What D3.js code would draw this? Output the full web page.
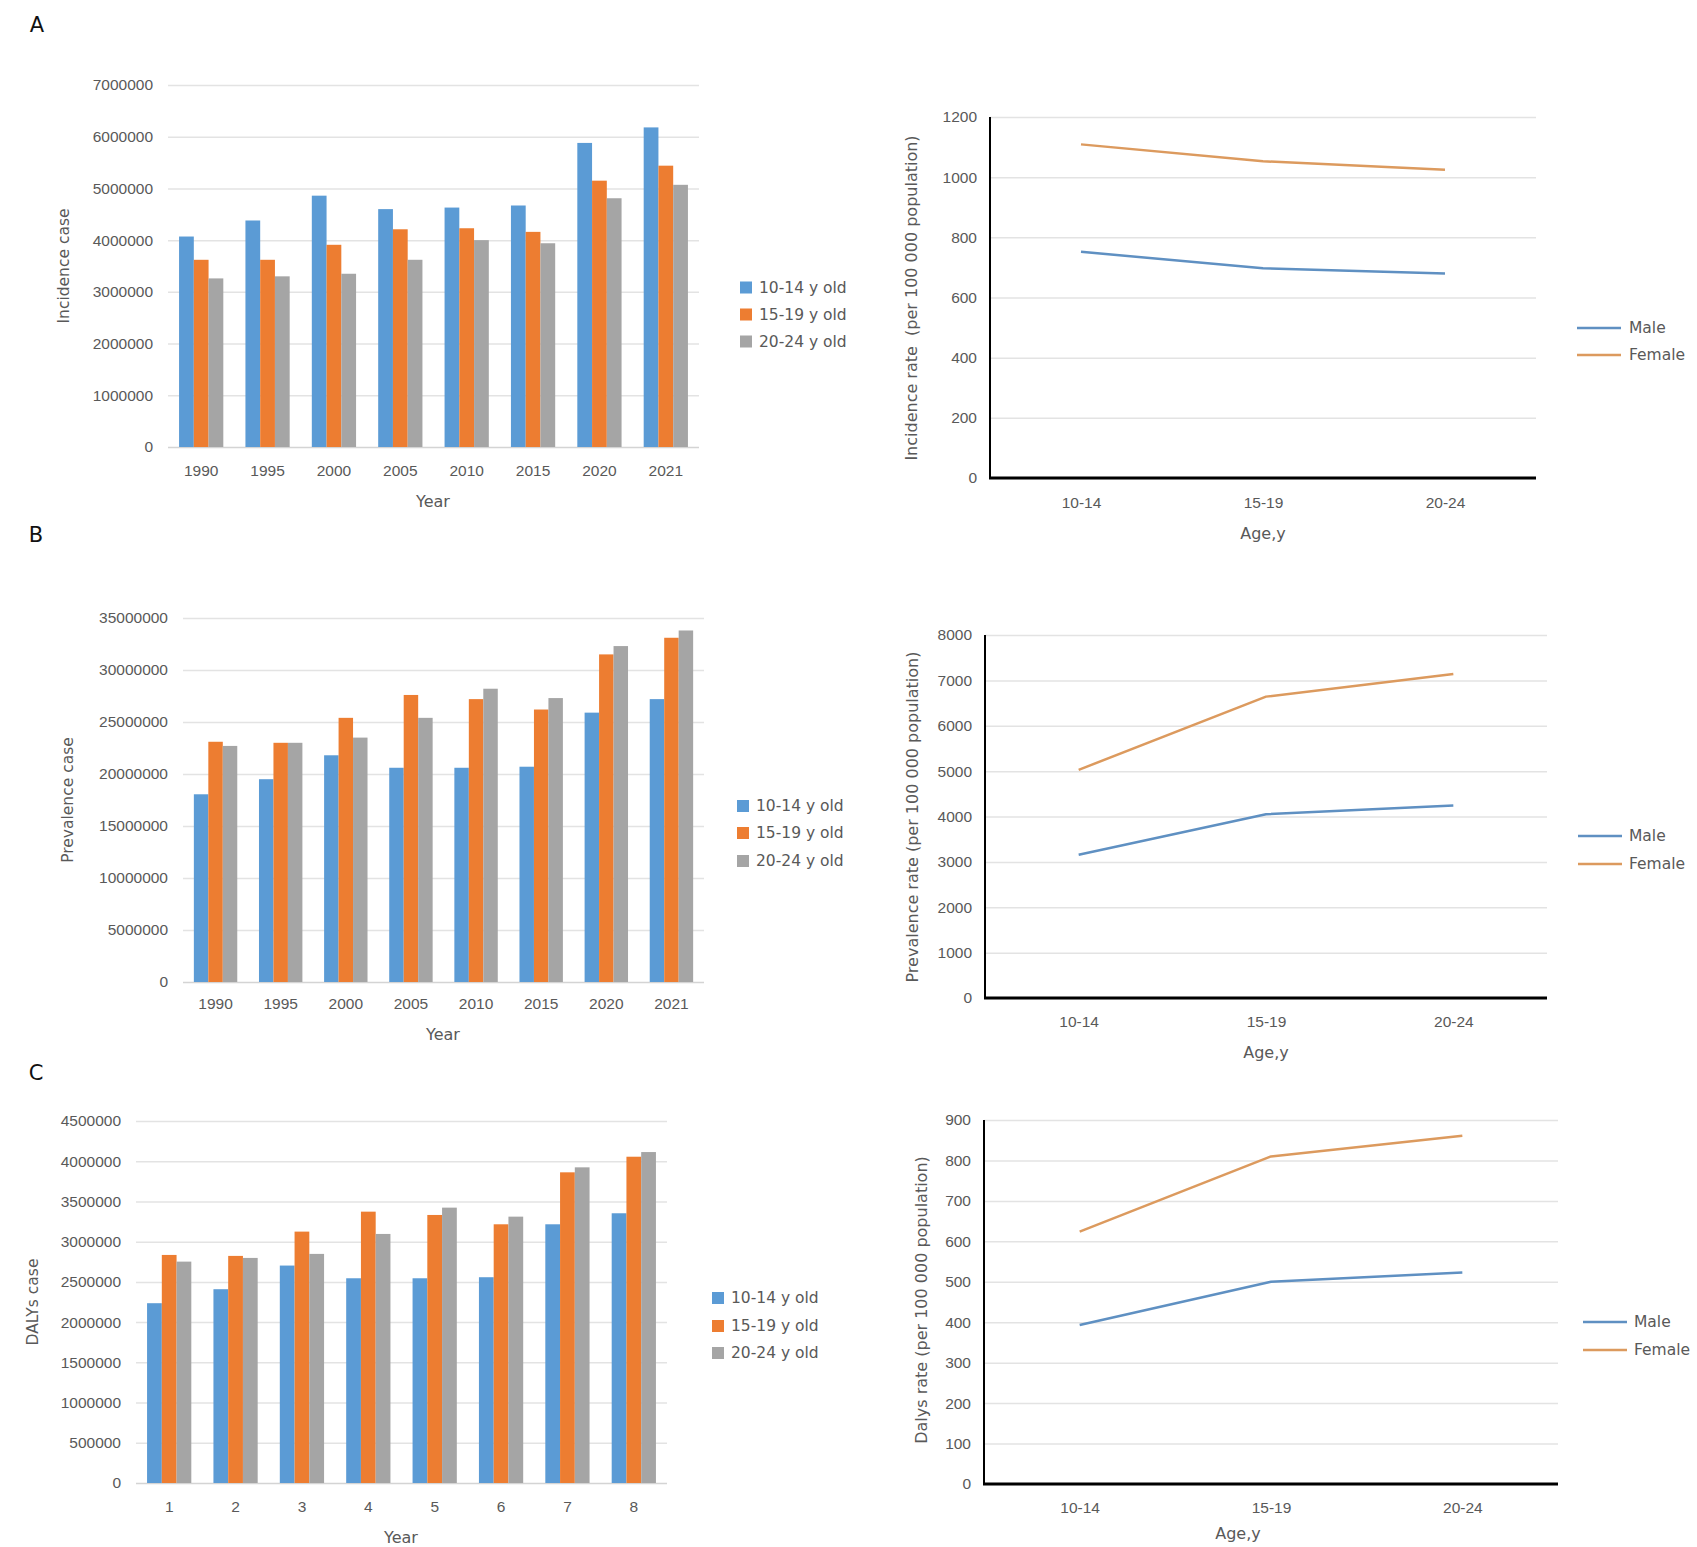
<!DOCTYPE html>
<meta charset="utf-8">
<style>
  body { margin: 0; background: #fff; }
  svg { display: block; font-family: "DejaVu Sans", "Liberation Sans", sans-serif; }
</style>
<script src="https://d3js.org/d3.v7.min.js"></script>
<div id="chart"></div>
<script>

  // ---- data ----
  const years = ["1990", "1995", "2000", "2005", "2010", "2015", "2020", "2021"];
  const dalysIndex = ["1", "2", "3", "4", "5", "6", "7", "8"];
  const ageGroups = ["10-14 y old", "15-19 y old", "20-24 y old"];
  const ageBands = ["10-14", "15-19", "20-24"];
  const sexes = ["Male", "Female"];

  const incidence10to14 = [4070000, 4380000, 4860000, 4600000, 4630000, 4670000, 5880000, 6180000];
  const incidence15to19 = [3620000, 3620000, 3910000, 4210000, 4230000, 4160000, 5150000, 5440000];
  const incidence20to24 = [3260000, 3300000, 3350000, 3620000, 4000000, 3940000, 4810000, 5070000];

  const prevalence10to14 = [18050000, 19500000, 21800000, 20600000, 20600000, 20700000, 25900000, 27200000];
  const prevalence15to19 = [23100000, 23000000, 25400000, 27600000, 27200000, 26200000, 31500000, 33100000];
  const prevalence20to24 = [22700000, 23000000, 23500000, 25400000, 28200000, 27300000, 32300000, 33800000];

  const dalys10to14 = [2235000, 2409000, 2703000, 2545000, 2545000, 2558000, 3216000, 3353000];
  const dalys15to19 = [2835000, 2823000, 3125000, 3373000, 3332000, 3216000, 3862000, 4056000];
  const dalys20to24 = [2752000, 2798000, 2848000, 3096000, 3423000, 3311000, 3924000, 4114000];

  const incidenceRateMale = [752, 697, 680];
  const incidenceRateFemale = [1109, 1053, 1025];
  const prevalenceRateMale = [3156, 4051, 4242];
  const prevalenceRateFemale = [5028, 6642, 7141];
  const dalysRateMale = [393, 500, 523];
  const dalysRateFemale = [624, 810, 861];

  const barColors = ["#5b9bd5", "#ed7d31", "#a5a5a5"];
  const lineColors = ["#5f90c2", "#dc9a5e"];
  const textGray = "#595959";
  const gridGray = "#e3e3e3";

  const svg = d3.select("#chart").append("svg")
      .attr("width", 1697)
      .attr("height", 1547);

  // panel letters
  [["A", 37, 25], ["B", 36, 535], ["C", 36, 1073]].forEach(([t, x, y]) => {
    svg.append("text")
        .attr("x", x).attr("y", y)
        .attr("dy", "0.35em")
        .attr("text-anchor", "middle")
        .attr("font-size", 21)
        .attr("fill", "#111")
        .text(t);
  });

  function barChart(p) {
    const y = d3.scaleLinear().domain([0, p.max]).range([p.bottom, p.top]);
    const x = d3.scaleBand().domain(p.cats).range([p.left, p.right])
        .paddingInner(1 / 3).paddingOuter(1 / 6);
    const xs = d3.scaleBand().domain(ageGroups).range([0, x.bandwidth()]);

    const g = svg.append("g");

    g.append("g")
        .attr("transform", `translate(${p.left},0)`)
        .call(d3.axisLeft(y)
          .tickValues(d3.range(0, p.max + p.step / 2, p.step))
          .tickSize(-(p.right - p.left))
          .tickPadding(15)
          .tickFormat(d3.format("d")))
        .call(a => a.select(".domain").remove())
        .call(a => a.selectAll(".tick line")
          .attr("stroke", d => d === 0 ? "#d4d4d4" : gridGray)
          .attr("stroke-width", 1.5))
        .call(a => a.selectAll(".tick text")
          .attr("fill", textGray)
          .attr("font-size", 15.5)
          .attr("font-family", null));

    p.series.forEach((vals, j) => {
      g.append("g")
          .attr("fill", barColors[j])
        .selectAll("rect")
        .data(vals)
        .join("rect")
          .attr("x", (d, i) => x(p.cats[i]) + xs(ageGroups[j]))
          .attr("width", xs.bandwidth())
          .attr("y", d => y(d))
          .attr("height", d => y(0) - y(d));
    });

    g.append("g")
        .attr("transform", `translate(0,${p.labelY})`)
        .call(d3.axisBottom(x).tickSize(0).tickPadding(0))
        .call(a => a.select(".domain").remove())
        .call(a => a.selectAll(".tick text")
          .attr("y", 0).attr("dy", "0.35em")
          .attr("fill", textGray)
          .attr("font-size", 15.5)
          .attr("font-family", null));

    g.append("text")
        .attr("x", p.xTitle[0]).attr("y", p.xTitle[1])
        .attr("dy", "0.35em")
        .attr("text-anchor", "middle")
        .attr("font-size", 16)
        .attr("fill", textGray)
        .text("Year");

    g.append("text")
        .attr("transform", `translate(${p.yTitle[0]},${p.yTitle[1]}) rotate(-90)`)
        .attr("dy", "0.35em")
        .attr("text-anchor", "middle")
        .attr("font-size", 15.5)
        .attr("fill", textGray)
        .text(p.yLabel);

    const leg = g.append("g").selectAll("g")
      .data(ageGroups)
      .join("g")
        .attr("transform", (d, i) => `translate(${p.legendX},${p.legendY[i]})`);
    leg.append("rect")
        .attr("x", 0).attr("y", -6)
        .attr("width", 12).attr("height", 12)
        .attr("fill", (d, i) => barColors[i]);
    leg.append("text")
        .attr("x", 19)
        .attr("dy", "0.35em")
        .attr("font-size", 15.5)
        .attr("fill", textGray)
        .text(d => d);
  }

  function lineChart(p) {
    const y = d3.scaleLinear().domain([0, p.max]).range([p.bottom, p.top]);
    const x = d3.scalePoint().domain(ageBands).range([p.left, p.right]).padding(0.5);

    const g = svg.append("g");

    g.append("g")
        .attr("transform", `translate(${p.left},0)`)
        .call(d3.axisLeft(y)
          .tickValues(d3.range(0, p.max + p.step / 2, p.step))
          .tickSize(-(p.right - p.left))
          .tickPadding(13)
          .tickFormat(d3.format("d")))
        .call(a => a.select(".domain").remove())
        .call(a => a.selectAll(".tick line")
          .attr("stroke", gridGray)
          .attr("stroke-width", 1.5))
        .call(a => a.selectAll(".tick text")
          .attr("fill", textGray)
          .attr("font-size", 15.5)
          .attr("font-family", null));

    // black axis lines
    g.append("line")
        .attr("x1", p.left).attr("x2", p.left)
        .attr("y1", p.top).attr("y2", p.bottom)
        .attr("stroke", "#000").attr("stroke-width", 2);
    g.append("line")
        .attr("x1", p.left - 1).attr("x2", p.right)
        .attr("y1", p.bottom).attr("y2", p.bottom)
        .attr("stroke", "#000").attr("stroke-width", 3);

    const line = d3.line()
        .x((d, i) => x(ageBands[i]))
        .y(d => y(d));

    p.series.forEach((vals, j) => {
      g.append("path")
          .datum(vals)
          .attr("fill", "none")
          .attr("stroke", lineColors[j])
          .attr("stroke-width", 2.5)
          .attr("stroke-linejoin", "round")
          .attr("d", line);
    });

    g.append("g")
        .attr("transform", `translate(0,${p.labelY})`)
        .call(d3.axisBottom(x).tickSize(0).tickPadding(0))
        .call(a => a.select(".domain").remove())
        .call(a => a.selectAll(".tick text")
          .attr("y", 0).attr("dy", "0.35em")
          .attr("fill", textGray)
          .attr("font-size", 15.5)
          .attr("font-family", null));

    g.append("text")
        .attr("x", p.xTitle[0]).attr("y", p.xTitle[1])
        .attr("dy", "0.35em")
        .attr("text-anchor", "middle")
        .attr("font-size", 16)
        .attr("fill", textGray)
        .text("Age,y");

    g.append("text")
        .attr("transform", `translate(${p.yTitle[0]},${p.yTitle[1]}) rotate(-90)`)
        .attr("dy", "0.35em")
        .attr("text-anchor", "middle")
        .attr("font-size", 16)
        .attr("fill", textGray)
        .style("white-space", "pre")
        .text(p.yLabel);

    const leg = g.append("g").selectAll("g")
      .data(sexes)
      .join("g")
        .attr("transform", (d, i) => `translate(${p.legendX},${p.legendY[i]})`);
    leg.append("line")
        .attr("x1", 0).attr("x2", 44)
        .attr("stroke", (d, i) => lineColors[i])
        .attr("stroke-width", 2.5);
    leg.append("text")
        .attr("x", p.legendTextX - p.legendX)
        .attr("dy", "0.35em")
        .attr("font-size", 15.5)
        .attr("fill", textGray)
        .text(d => d);
  }

  // ---- A ----
  barChart({
    cats: years, series: [incidence10to14, incidence15to19, incidence20to24],
    max: 7000000, step: 1000000,
    left: 168, right: 699, top: 85, bottom: 447,
    labelY: 471, xTitle: [433, 501], yTitle: [64, 266], yLabel: "Incidence case",
    legendX: 740, legendY: [287.5, 314.5, 341.5]
  });
  lineChart({
    series: [incidenceRateMale, incidenceRateFemale],
    max: 1200, step: 200,
    left: 990, right: 1536, top: 117, bottom: 478,
    labelY: 503, xTitle: [1263, 533], yTitle: [911, 298],
    yLabel: "Incidence rate  (per 100 000 population)",
    legendX: 1577, legendTextX: 1629, legendY: [328, 355]
  });

  // ---- B ----
  barChart({
    cats: years, series: [prevalence10to14, prevalence15to19, prevalence20to24],
    max: 35000000, step: 5000000,
    left: 183, right: 704, top: 618, bottom: 982,
    labelY: 1004, xTitle: [443, 1034], yTitle: [68, 800], yLabel: "Prevalence case",
    legendX: 737, legendY: [806, 833, 861]
  });
  lineChart({
    series: [prevalenceRateMale, prevalenceRateFemale],
    max: 8000, step: 1000,
    left: 985, right: 1547, top: 635, bottom: 998,
    labelY: 1022, xTitle: [1266, 1052], yTitle: [912, 817],
    yLabel: "Prevalence rate (per 100 000 population)",
    legendX: 1578, legendTextX: 1629, legendY: [836, 864]
  });

  // ---- C ----
  barChart({
    cats: dalysIndex, series: [dalys10to14, dalys15to19, dalys20to24],
    max: 4500000, step: 500000,
    left: 136, right: 667, top: 1121, bottom: 1483,
    labelY: 1507, xTitle: [401, 1537], yTitle: [33, 1302], yLabel: "DALYs case",
    legendX: 712, legendY: [1298, 1326, 1353]
  });
  lineChart({
    series: [dalysRateMale, dalysRateFemale],
    max: 900, step: 100,
    left: 984, right: 1558, top: 1120, bottom: 1484,
    labelY: 1508, xTitle: [1238, 1533], yTitle: [921, 1300],
    yLabel: "Dalys rate (per 100 000 population)",
    legendX: 1583, legendTextX: 1634, legendY: [1322, 1350]
  });

</script>
